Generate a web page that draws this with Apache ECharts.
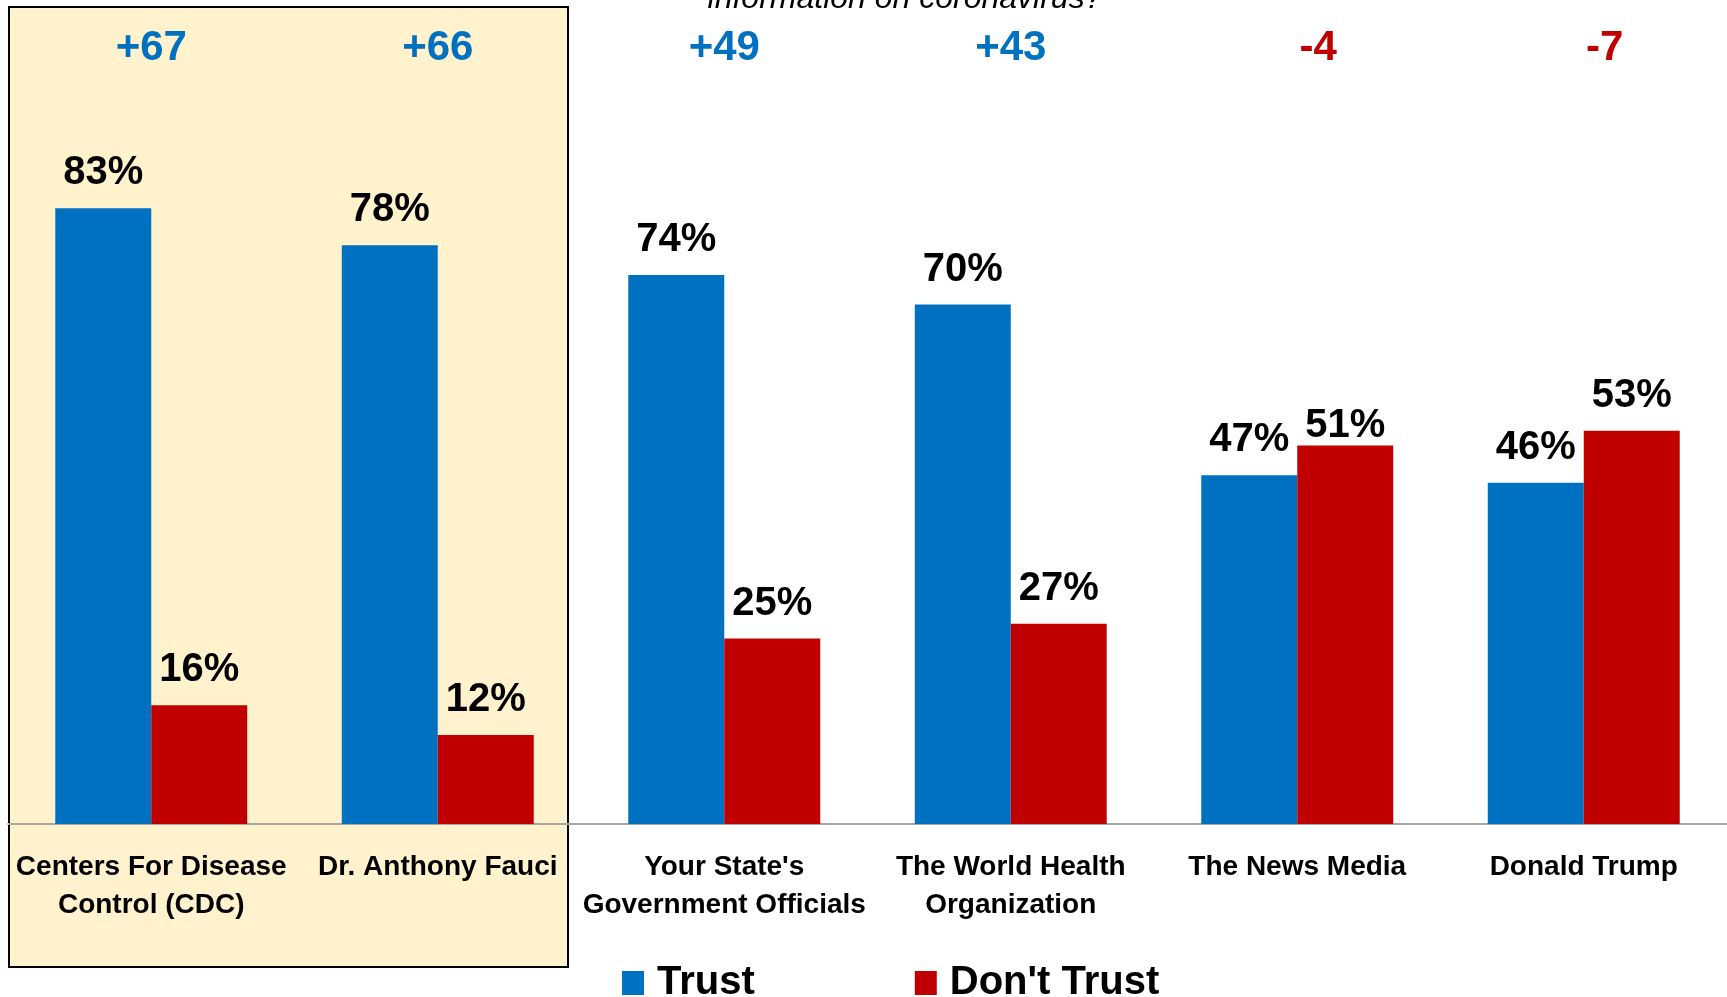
<!DOCTYPE html>
<html>
<head>
<meta charset="utf-8">
<script src="https://cdn.jsdelivr.net/npm/echarts@6/dist/echarts.min.js"></script>
<style>
html,body{margin:0;padding:0;background:#fff;}
#c{width:1727px;height:997px;}
</style>
</head>
<body>
<div id="c"></div>
<script>
const categories = [
  "Centers For Disease\nControl (CDC)",
  "Dr. Anthony Fauci",
  "Your State's\nGovernment Officials",
  "The World Health\nOrganization",
  "The News Media",
  "Donald Trump"
];
const trust = [83, 78, 74, 70, 47, 46];
const dontTrust = [16, 12, 25, 27, 51, 53];
const netLabels = ["+67", "+66", "+49", "+43", "-4", "-7"];
const seriesNames = ["Trust", "Don't Trust"];
const titleText = "information on coronavirus?";

const FONT = "'Liberation Sans','Arial',sans-serif";
const BLUE = "#0070C0";
const RED = "#C00000";

const chart = echarts.init(document.getElementById('c'), null, {renderer: 'canvas'});

const valueLabel = {
  show: true, position: 'top', distance: 15,
  formatter: p => p.value + '%',
  fontFamily: FONT, fontWeight: 'bold', fontSize: 40, color: '#000'
};

chart.setOption({
  animation: false,
  backgroundColor: '#fff',
  grid: {left: 8, right: 0, top: 82, bottom: 173, containLabel: false},
  graphic: [
    {
      type: 'rect', z: -10, silent: true,
      shape: {x: 9, y: 7, width: 559, height: 960},
      style: {fill: '#FFF2CC', stroke: '#000', lineWidth: 2}
    },
    {
      type: 'text', z: 10, silent: true,
      style: {
        x: 905, y: -1, text: titleText, textAlign: 'center', textVerticalAlign: 'middle',
        fontFamily: FONT, fontStyle: 'italic', fontSize: 32, fill: '#000'
      }
    }
  ],
  legend: {
    data: seriesNames,
    left: 617, top: 958,
    itemWidth: 22, itemHeight: 24, itemGap: 160,
    icon: 'rect',
    textStyle: {fontFamily: FONT, fontWeight: 'bold', fontSize: 40, color: '#000', padding: [0, 0, 0, 8]}
  },
  xAxis: [
    {
      type: 'category', data: categories, position: 'bottom',
      axisLine: {show: true, lineStyle: {color: '#A6A6A6', width: 2}},
      axisTick: {show: false},
      axisLabel: {
        interval: 0, margin: 24, fontFamily: FONT, fontWeight: 'bold', fontSize: 28,
        color: '#000', lineHeight: 38
      }
    },
    {
      type: 'category', data: netLabels, position: 'top',
      axisLine: {show: false}, axisTick: {show: false},
      axisLabel: {
        interval: 0, margin: 13,
        formatter: v => (v.charAt(0) === '-' ? '{n|' + v + '}' : '{p|' + v + '}'),
        rich: {
          p: {fontFamily: FONT, fontWeight: 'bold', fontSize: 42, color: BLUE},
          n: {fontFamily: FONT, fontWeight: 'bold', fontSize: 42, color: RED, padding: [0, 0, 0, 42]}
        }
      }
    }
  ],
  yAxis: {
    type: 'value', min: 0, max: 100, show: false,
    splitLine: {show: false}
  },
  series: [
    {
      name: seriesNames[0], type: 'bar', data: trust,
      barGap: '0%', barCategoryGap: '33%',
      itemStyle: {color: BLUE},
      label: valueLabel
    },
    {
      name: seriesNames[1], type: 'bar',
      data: dontTrust.map((v, i) => i === 4 ? {value: v, label: {distance: 0}} : v),
      barGap: '0%', barCategoryGap: '33%',
      itemStyle: {color: RED},
      label: valueLabel
    }
  ]
});
</script>
</body>
</html>
